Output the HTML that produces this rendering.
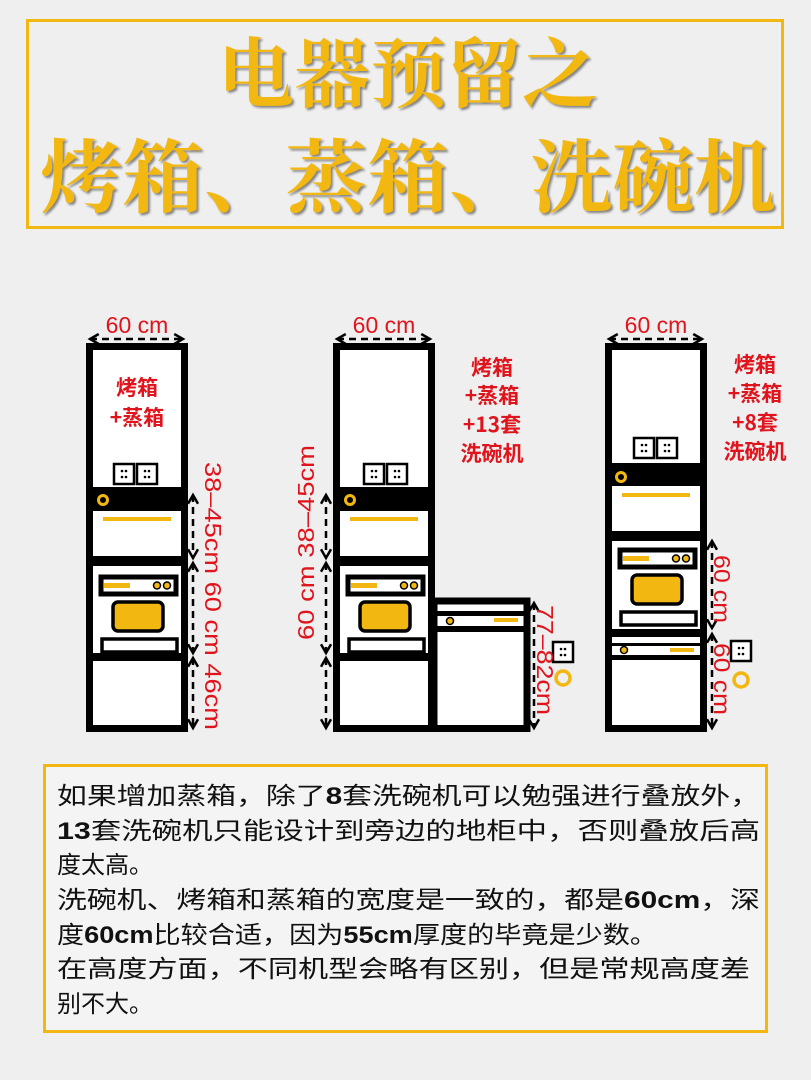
<!DOCTYPE html>
<html><head><meta charset="utf-8"><style>
html,body{margin:0;padding:0;background:#efefef;}
svg{display:block}
.t{font-family:"Liberation Serif","Noto Serif CJK SC",serif;}
.s{font-family:"Liberation Sans","Noto Sans CJK SC",sans-serif;}
.b{font-family:"Noto Sans CJK SC","WenQuanYi Zen Hei",sans-serif;}
</style></head><body>
<svg width="811" height="1080" viewBox="0 0 811 1080" xmlns="http://www.w3.org/2000/svg">
<defs>
<marker id="ah" viewBox="0 0 10 10" refX="8" refY="5" markerWidth="5" markerHeight="5" orient="auto-start-reverse"><path d="M1,1 L8,5 L1,9" fill="none" stroke="#000" stroke-width="2"/></marker>
<g id="sock"><rect x="0" y="0" width="20" height="20" fill="#fff" stroke="#000" stroke-width="2.5"/><circle cx="8" cy="7" r="1.3"/><circle cx="12" cy="7" r="1.3"/><circle cx="8" cy="13" r="1.3"/><circle cx="12" cy="13" r="1.3"/></g>
<g id="oven"><rect x="0" y="0" width="75" height="17" fill="#fff" stroke="#000" stroke-width="5"/><rect x="3" y="6" width="26" height="5" fill="#f2b811"/><circle cx="56" cy="8.5" r="3.5" fill="#f2b811" stroke="#000" stroke-width="1.5"/><circle cx="66" cy="8.5" r="3.5" fill="#f2b811" stroke="#000" stroke-width="1.5"/><rect x="12" y="25" width="50" height="29" rx="5" fill="#f2b811" stroke="#000" stroke-width="3.5"/><rect x="1" y="62" width="75" height="13" fill="#fff" stroke="#000" stroke-width="3.5"/></g>
</defs>
<rect x="27.5" y="20.5" width="755" height="207" fill="none" stroke="#f2b811" stroke-width="3"/>
<g class="t" font-weight="bold" fill="#f2b811" style="filter:drop-shadow(2px 2px 1px rgba(0,0,0,0.45))" text-anchor="middle">
<text x="408" y="101" font-size="76">电器预留之</text>
<text x="408" y="206" font-size="80" textLength="735" lengthAdjust="spacingAndGlyphs">烤箱、蒸箱、洗碗机</text>
</g>

<g stroke="#000" fill="#fff">
<rect x="89.5" y="346.5" width="95" height="382" stroke-width="7"/>
<rect x="89" y="487" width="96" height="24" fill="#000" stroke="none"/>
<rect x="89" y="556" width="96" height="10" fill="#000" stroke="none"/>
<rect x="89" y="653" width="96" height="8" fill="#000" stroke="none"/>
<rect x="336.5" y="346.5" width="95" height="382" stroke-width="7"/>
<rect x="336" y="487" width="96" height="24" fill="#000" stroke="none"/>
<rect x="336" y="556" width="96" height="10" fill="#000" stroke="none"/>
<rect x="336" y="653" width="96" height="8" fill="#000" stroke="none"/>
<rect x="434" y="601" width="93" height="127.5" stroke-width="7"/>
<rect x="434" y="611" width="93" height="5" fill="#000" stroke="none"/>
<rect x="434" y="626" width="93" height="6" fill="#000" stroke="none"/>
<rect x="608.5" y="346.5" width="95" height="382" stroke-width="7"/>
<rect x="608" y="463" width="96" height="23" fill="#000" stroke="none"/>
<rect x="608" y="531" width="96" height="10" fill="#000" stroke="none"/>
<rect x="608" y="629" width="96" height="8" fill="#000" stroke="none"/>
<rect x="608" y="643" width="96" height="3" fill="#000" stroke="none"/>
<rect x="608" y="655" width="96" height="5" fill="#000" stroke="none"/>
</g>
<g fill="none" stroke="#f2b811" stroke-width="3">
<circle cx="103" cy="500" r="4.5"/><circle cx="350" cy="500" r="4.5"/><circle cx="621" cy="477" r="4.5"/>
</g>
<g fill="#f2b811">
<rect x="103" y="517" width="68" height="4"/><rect x="350" y="517" width="68" height="4"/><rect x="622" y="493" width="68" height="4"/>
<rect x="494" y="618" width="24" height="4"/><rect x="670" y="648" width="24" height="4"/>
<circle cx="450" cy="621" r="3.5" stroke="#000" stroke-width="1.5"/><circle cx="624" cy="650" r="3.5" stroke="#000" stroke-width="1.5"/>
</g>
<use href="#oven" x="101" y="577"/>
<use href="#oven" x="348" y="577"/>
<use href="#oven" x="620" y="550"/>
<use href="#sock" x="114" y="464"/><use href="#sock" x="137" y="464"/>
<use href="#sock" x="364" y="464"/><use href="#sock" x="387" y="464"/>
<use href="#sock" x="634" y="438"/><use href="#sock" x="657" y="438"/>
<use href="#sock" x="553" y="642"/><use href="#sock" x="731" y="641"/>
<g fill="none" stroke="#f2b811" stroke-width="3.5"><circle cx="563" cy="678" r="7"/><circle cx="741" cy="680" r="7"/></g>

<g stroke="#000" stroke-width="2.5" stroke-dasharray="7,5" marker-start="url(#ah)" marker-end="url(#ah)" fill="none">
<line x1="90" y1="339" x2="183" y2="339"/><line x1="337" y1="339" x2="430" y2="339"/><line x1="609" y1="339" x2="702" y2="339"/>
<line x1="193" y1="495" x2="193" y2="558"/><line x1="193" y1="563" x2="193" y2="653"/><line x1="193" y1="658" x2="193" y2="728"/>
<line x1="326" y1="495" x2="326" y2="558"/><line x1="326" y1="563" x2="326" y2="653"/><line x1="326" y1="658" x2="326" y2="728"/>
<line x1="534" y1="603" x2="534" y2="728"/>
<line x1="712" y1="541" x2="712" y2="628"/><line x1="712" y1="634" x2="712" y2="728"/>
</g>

<g class="s" fill="#e0141c">
<text x="137" y="333" font-size="23" text-anchor="middle">60 cm</text>
<text x="384" y="333" font-size="23" text-anchor="middle">60 cm</text>
<text x="656" y="333" font-size="23" text-anchor="middle">60 cm</text>
<g font-size="21" text-anchor="middle" font-weight="bold" class="b">
<text x="137" y="395">烤箱</text><text x="137" y="425">+蒸箱</text>
<text x="492" y="375">烤箱</text><text x="492" y="403">+蒸箱</text><text x="492" y="432">+13套</text><text x="492" y="461">洗碗机</text>
<text x="755" y="372">烤箱</text><text x="755" y="401">+蒸箱</text><text x="755" y="430">+8套</text><text x="755" y="459">洗碗机</text>
</g>
<text transform="translate(205,462) rotate(90)" font-size="23" textLength="268" lengthAdjust="spacingAndGlyphs">38–45cm  60 cm  46cm</text>
<text transform="translate(314,640) rotate(-90)" font-size="23" textLength="195" lengthAdjust="spacingAndGlyphs">60 cm  38–45cm</text>
<text transform="translate(537,605) rotate(90)" font-size="23" textLength="110" lengthAdjust="spacingAndGlyphs">77–82cm</text>
<text transform="translate(714,555) rotate(90)" font-size="23" textLength="68" lengthAdjust="spacingAndGlyphs">60 cm</text>
<text transform="translate(714,643) rotate(90)" font-size="23" textLength="72" lengthAdjust="spacingAndGlyphs">60 cm</text>
</g>

<rect x="44.5" y="765.5" width="722" height="266" fill="#f4f4f4" stroke="#f2b811" stroke-width="3"/>
<g class="b" font-size="24" fill="#111">
<text x="57" y="804" textLength="703" lengthAdjust="spacingAndGlyphs">如果增加蒸箱，除了<tspan class="s" font-weight="bold">8</tspan>套洗碗机可以勉强进行叠放外，</text>
<text x="57" y="839" textLength="703" lengthAdjust="spacingAndGlyphs"><tspan class="s" font-weight="bold">13</tspan>套洗碗机只能设计到旁边的地柜中，否则叠放后高</text>
<text x="57" y="873">度太高。</text>
<text x="57" y="908" textLength="703" lengthAdjust="spacingAndGlyphs">洗碗机、烤箱和蒸箱的宽度是一致的，都是<tspan class="s" font-weight="bold">60cm</tspan>，深</text>
<text x="57" y="943" textLength="600" lengthAdjust="spacingAndGlyphs">度<tspan class="s" font-weight="bold">60cm</tspan>比较合适，因为<tspan class="s" font-weight="bold">55cm</tspan>厚度的毕竟是少数。</text>
<text x="57" y="977" textLength="693" lengthAdjust="spacingAndGlyphs">在高度方面，不同机型会略有区别，但是常规高度差</text>
<text x="57" y="1012">别不大。</text>
</g>
</svg>
</body></html>
